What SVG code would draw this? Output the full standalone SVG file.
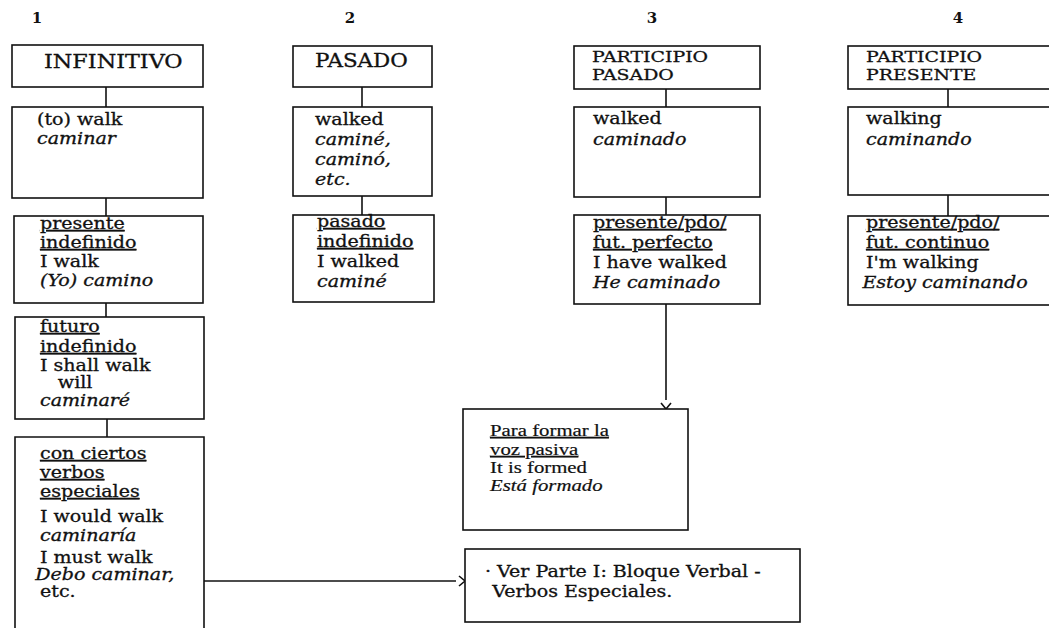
<svg xmlns="http://www.w3.org/2000/svg" width="1049" height="628" viewBox="0 0 1049 628">
<style>
  .bx { fill: #fff; stroke: #111; stroke-width: 1.6; }
  .cn { fill: none; stroke: #111; stroke-width: 1.6; }
  text { font-family: "DejaVu Serif", "Liberation Serif", serif; fill: #111; stroke: #111; stroke-width: 0.3; font-size: 16px; }
  .h { font-size: 18px; }
  .h2 { font-size: 15px; }
  .n { font-size: 15px; font-weight: bold; text-anchor: middle; stroke-width: 0; }
  .i { font-style: italic; }
  .u { text-decoration: underline; }
  .tm { font-family: "Liberation Serif", serif; font-size: 16px; stroke-width: 0.2; }
</style>
<defs>
  <marker id="chev" viewBox="0 0 12 12" refX="0" refY="6" markerWidth="12" markerHeight="12" orient="auto" markerUnits="userSpaceOnUse">
    <path d="M3,1 L9,6 L3,11" fill="none" stroke="#111" stroke-width="1.6"/>
  </marker>
</defs>
<rect width="1049" height="628" fill="#fff"/>

<g id="numbers">
  <text class="n" x="37" y="23">1</text>
  <text class="n" x="350" y="23">2</text>
  <text class="n" x="652" y="23">3</text>
  <text class="n" x="958" y="23">4</text>
</g>

<g id="connectors">
  <line class="cn" x1="106" y1="87" x2="106" y2="107"/>
  <line class="cn" x1="106" y1="198" x2="106" y2="216"/>
  <line class="cn" x1="106" y1="303" x2="106" y2="317"/>
  <line class="cn" x1="107" y1="419" x2="107" y2="437"/>
  <line class="cn" x1="362" y1="87" x2="362" y2="107"/>
  <line class="cn" x1="362" y1="196" x2="362" y2="215"/>
  <line class="cn" x1="666" y1="89" x2="666" y2="107"/>
  <line class="cn" x1="666" y1="197" x2="666" y2="215"/>
  <line class="cn" x1="948" y1="89" x2="948" y2="107"/>
  <line class="cn" x1="948" y1="195" x2="948" y2="216"/>
  <line class="cn" x1="666" y1="304" x2="666" y2="400" stroke-width="2" marker-end="url(#chev)"/>
  <line class="cn" x1="204" y1="581" x2="456" y2="581" marker-end="url(#chev)"/>
</g>

<g id="infinitivo">
  <rect class="bx" x="12" y="45" width="191" height="42"/>
  <g transform="translate(44,68) scale(1.24 1)"><text class="h">INFINITIVO</text></g>
</g>
<g id="to-walk">
  <rect class="bx" x="12" y="107" width="191" height="91"/>
  <g transform="translate(37,125) scale(1.19 1)">
    <text>(to) walk</text>
    <text class="i" y="19">caminar</text>
  </g>
</g>
<g id="presente-indefinido">
  <rect class="bx" x="14" y="216" width="189" height="87"/>
  <g transform="translate(40,229) scale(1.19 1)">
    <text class="u">presente</text>
    <text class="u" y="19">indefinido</text>
    <text y="38">I walk</text>
    <text class="i" y="57">(Yo) camino</text>
  </g>
</g>
<g id="futuro-indefinido">
  <rect class="bx" x="15" y="317" width="189" height="102"/>
  <g transform="translate(40,332) scale(1.19 1)">
    <text class="u">futuro</text>
    <text class="u" y="20">indefinido</text>
    <text y="39">I shall walk</text>
    <text x="15" y="56">will</text>
    <text class="i" y="74">caminaré</text>
  </g>
</g>
<g id="verbos-especiales">
  <path class="bx" d="M15,629 V437 H204 V629"/>
  <g transform="translate(40,459) scale(1.19 1)">
    <text class="u">con ciertos</text>
    <text class="u" y="19">verbos</text>
    <text class="u" y="38">especiales</text>
    <text y="63">I would walk</text>
    <text class="i" y="82">caminaría</text>
    <text y="104">I must walk</text>
    <text class="i" x="-4" y="121">Debo caminar,</text>
    <text y="138">etc.</text>
  </g>
</g>

<g id="pasado">
  <rect class="bx" x="293" y="46" width="139" height="41"/>
  <g transform="translate(315,67) scale(1.19 1)"><text class="h">PASADO</text></g>
</g>
<g id="walked">
  <rect class="bx" x="293" y="107" width="139" height="89"/>
  <g transform="translate(315,125) scale(1.19 1)">
    <text>walked</text>
    <text class="i" y="20">caminé,</text>
    <text class="i" y="40">caminó,</text>
    <text class="i" y="60">etc.</text>
  </g>
</g>
<g id="pasado-indefinido">
  <rect class="bx" x="293" y="215" width="141" height="87"/>
  <g transform="translate(317,227) scale(1.19 1)">
    <text class="u">pasado</text>
    <text class="u" y="20">indefinido</text>
    <text y="40">I walked</text>
    <text class="i" y="60">caminé</text>
  </g>
</g>

<g id="participio-pasado">
  <rect class="bx" x="574" y="46" width="186" height="43"/>
  <g transform="translate(592,62) scale(1.26 1)">
    <text class="h2">PARTICIPIO</text>
    <text class="h2" y="18">PASADO</text>
  </g>
</g>
<g id="walked-pp">
  <rect class="bx" x="574" y="107" width="186" height="90"/>
  <g transform="translate(593,124) scale(1.19 1)">
    <text>walked</text>
    <text class="i" y="21">caminado</text>
  </g>
</g>
<g id="perfecto">
  <rect class="bx" x="574" y="215" width="186" height="89"/>
  <g transform="translate(593,228) scale(1.19 1)">
    <text class="u">presente/pdo/</text>
    <text class="u" y="20">fut. perfecto</text>
    <text y="40">I have walked</text>
    <text class="i" y="60">He caminado</text>
  </g>
</g>

<g id="participio-presente">
  <rect class="bx" x="848" y="46" width="215" height="43"/>
  <g transform="translate(866,62) scale(1.26 1)">
    <text class="h2">PARTICIPIO</text>
    <text class="h2" y="18">PRESENTE</text>
  </g>
</g>
<g id="walking">
  <rect class="bx" x="848" y="107" width="215" height="88"/>
  <g transform="translate(866,124) scale(1.19 1)">
    <text>walking</text>
    <text class="i" y="21">caminando</text>
  </g>
</g>
<g id="continuo">
  <rect class="bx" x="848" y="216" width="215" height="89"/>
  <g transform="translate(866,228) scale(1.19 1)">
    <text class="u">presente/pdo/</text>
    <text class="u" y="20">fut. continuo</text>
    <text y="40">I'm walking</text>
    <text class="i" x="-3" y="60">Estoy caminando</text>
  </g>
</g>

<g id="voz-pasiva">
  <rect class="bx" x="463" y="409" width="225" height="121"/>
  <g transform="translate(490,436) scale(1.3 1)">
    <text class="tm u">Para formar la</text>
    <text class="tm u" y="19">voz pasiva</text>
    <text class="tm" y="37">It is formed</text>
    <text class="tm i" y="55">Está formado</text>
  </g>
</g>

<g id="ver-parte">
  <rect class="bx" x="465" y="549" width="335" height="73"/>
  <g transform="translate(485,577) scale(1.19 1)">
    <text>· Ver Parte I: Bloque Verbal -</text>
    <text x="6" y="20">Verbos Especiales.</text>
  </g>
</g>
</svg>
